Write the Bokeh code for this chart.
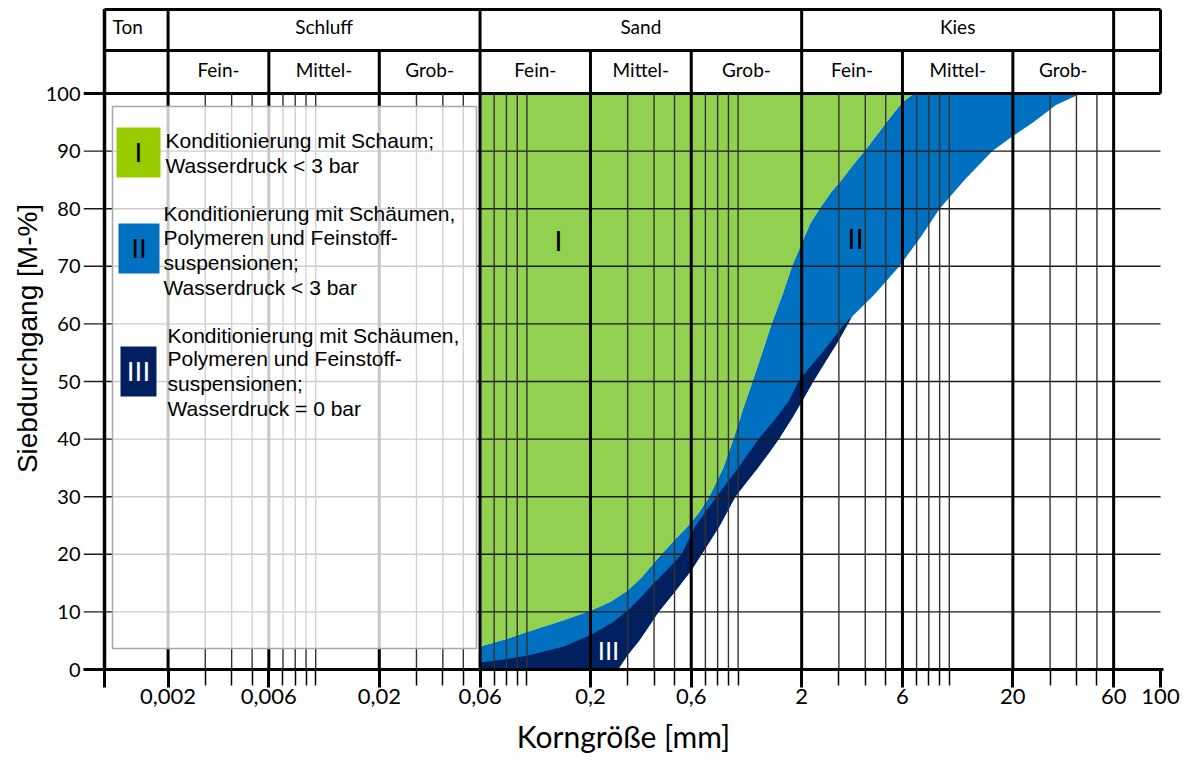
import numpy as np
from bokeh.plotting import figure
from bokeh.models import Range1d, FixedTicker
from bokeh.core.properties import value
from bokeh.embed import file_html
from bokeh.resources import INLINE

# ---------------- data ----------------
x_major_ticks = [0.001, 0.002, 0.006, 0.02, 0.06, 0.2, 0.6, 2, 6, 20, 60, 100]
x_major_labels = ["", "0,002", "0,006", "0,02", "0,06", "0,2", "0,6", "2", "6", "20", "60", "100"]
x_minor_ticks = [0.003, 0.004, 0.005, 0.007, 0.008, 0.009, 0.01,
                 0.03, 0.04, 0.05, 0.07, 0.08, 0.09, 0.1,
                 0.3, 0.4, 0.5, 0.7, 0.8, 0.9, 1,
                 3, 4, 5, 7, 8, 9, 10,
                 30, 40, 50]
y_ticks = [0, 10, 20, 30, 40, 50, 60, 70, 80, 90, 100]

main_classes = ["Ton", "Schluff", "Sand", "Kies", ""]
main_bounds = [0.001, 0.002, 0.06, 2, 60, 100]
sub_classes = ["", "Fein-", "Mittel-", "Grob-", "Fein-", "Mittel-", "Grob-",
               "Fein-", "Mittel-", "Grob-", ""]
sub_bounds = [0.001, 0.002, 0.006, 0.02, 0.06, 0.2, 0.6, 2, 6, 20, 60, 100]

# boundary green (I) / blue (II)
c1_x = [0.06, 0.08, 0.1, 0.15, 0.2, 0.25, 0.3, 0.35, 0.41, 0.5, 0.6, 0.66, 0.73, 0.85,
        0.95, 1.05, 1.17, 1.3, 1.44, 1.62, 1.8, 2.0, 2.2, 2.43, 2.75, 3.09, 3.5, 3.97,
        4.5, 5.04, 5.5, 6.0, 6.8]
c1_y = [4.0, 5.3, 6.5, 8.6, 10.2, 11.8, 13.7, 16.0, 19.0, 22.5, 25.5, 27.5, 30, 35,
        40, 45, 50, 55, 60, 65, 70, 74, 77.5, 80, 82.8, 85, 87.6, 90,
        92.6, 95, 96.8, 98.5, 100]
# upper boundary of band III (navy)
c3_x = [0.06, 0.08, 0.1, 0.15, 0.2, 0.25, 0.3, 0.35, 0.4, 0.47, 0.54, 0.63, 0.79, 1.0,
        1.25, 1.5, 1.73, 1.93, 2.2, 2.5, 2.8, 3.1, 3.45]
c3_y = [1.2, 1.8, 2.4, 4.0, 6.0, 8.0, 10.2, 12.7, 15, 17.6, 20, 25, 30, 35,
        40, 43.5, 46.5, 50, 52.6, 55, 57.3, 59.4, 61.2]
# lower boundary of band III
c4_x = [0.27, 0.3, 0.34, 0.38, 0.42, 0.5, 0.6, 0.7, 0.82, 0.97, 1.1, 1.24, 1.4, 1.56,
        1.8, 2.04, 2.27, 2.6, 2.98, 3.45]
c4_y = [0, 2.5, 5, 7.6, 10, 13.4, 17.2, 21, 25, 30, 32.6, 35, 37.6, 40,
        43.6, 47, 50, 53.5, 57, 61.2]
# lower boundary of band II (above the junction with band III)
c2_x = [3.45, 4.4, 5.8, 7.3, 9.0, 11.8, 16, 20, 25, 32, 42]
c2_y = [61.2, 65, 70, 75, 80, 85, 90, 92.6, 95, 98, 100]

band_labels = ["I", "II", "III"]
band_fill = ["#92D050", "#0070C0", "#002060"]
legend_fill = ["#99CC00", "#0070C0", "#002060"]
legend_label_color = ["black", "black", "white"]
legend_texts = [
    ["Konditionierung mit Schaum;", "Wasserdruck < 3 bar"],
    ["Konditionierung mit Schäumen,", "Polymeren und  Feinstoff-",
     "suspensionen;", "Wasserdruck < 3 bar"],
    ["Konditionierung mit Schäumen,", "Polymeren und  Feinstoff-",
     "suspensionen;", "Wasserdruck = 0 bar"],
]
x_title = "Korngröße [mm]"
y_title = "Siebdurchgang [M-%]"

# ---------------- layout helpers (pixel -> data) ----------------
DEC = 211.2


def xd(px):
    return 10 ** (-3 + (px - 104) / DEC)


def yd(py):
    return (669 - py) / 5.76


p = figure(width=1190, height=762, x_axis_type="log",
           x_range=Range1d(xd(83), xd(1163)), y_range=Range1d(0, yd(7)),
           min_border_left=83, min_border_right=27, min_border_top=7,
           min_border_bottom=93, output_backend="svg", toolbar_location=None)
p.outline_line_color = None
p.grid.visible = False
p.background_fill_color = "white"
p.border_fill_color = "white"

# ---------------- bands ----------------
blue_x = c1_x + [c2_x[-1]] + c2_x[::-1] + c4_x[::-1] + [0.06]
blue_y = c1_y + [100] + c2_y[::-1] + c4_y[::-1] + [0]
p.patch(blue_x, blue_y, fill_color=band_fill[1], line_color=None)
green_x = c1_x + [0.06]
green_y = c1_y + [100]
p.patch(green_x, green_y, fill_color=band_fill[0], line_color=None)
navy_x = c3_x + c4_x[::-1] + [0.06]
navy_y = c3_y + c4_y[::-1] + [0]
p.patch(navy_x, navy_y, fill_color=band_fill[2], line_color=None)

# ---------------- grid ----------------
inner_y = y_ticks[1:-1]
p.segment(x0=[xd(83)] * len(inner_y), y0=inner_y, x1=[100] * len(inner_y), y1=inner_y,
          line_color="#1a1a1a", line_width=1.4)
p.segment(x0=[xd(83)] * 2, y0=[0, 100], x1=[100] * 2, y1=[0, 100],
          line_color="black", line_width=3)
p.segment(x0=x_minor_ticks, y0=[0] * len(x_minor_ticks), x1=x_minor_ticks,
          y1=[100] * len(x_minor_ticks), line_color="#333333", line_width=1.4)
inner_x = x_major_ticks[1:-1]
p.segment(x0=inner_x, y0=[0] * len(inner_x), x1=inner_x, y1=[100] * len(inner_x),
          line_color="black", line_width=3)
p.segment(x0=[0.001], y0=[0], x1=[0.001], y1=[yd(8.5)], line_color="black", line_width=3.5)

# ---------------- header table ----------------
y_top, y_mid = yd(9), yd(50)
p.segment(x0=[0.001, 0.001], y0=[y_top, y_mid], x1=[100, 100], y1=[y_top, y_mid],
          line_color="black", line_width=3)
p.segment(x0=main_bounds[1:], y0=[y_mid] * (len(main_bounds) - 1),
          x1=main_bounds[1:], y1=[y_top] * (len(main_bounds) - 1),
          line_color="black", line_width=3)
p.segment(x0=sub_bounds[1:], y0=[100] * (len(sub_bounds) - 1),
          x1=sub_bounds[1:], y1=[y_mid] * (len(sub_bounds) - 1),
          line_color="black", line_width=3)

hdr_font = value("Lato")
p.text(x=[xd(112)], y=[yd(26)], text=[main_classes[0]], text_font=hdr_font,
       text_font_size="19px", text_align="left", text_baseline="middle", text_color="black")
mc_x = [np.sqrt(main_bounds[i] * main_bounds[i + 1]) for i in range(1, 4)]
p.text(x=mc_x, y=[yd(26)] * 3, text=main_classes[1:4], text_font=hdr_font,
       text_font_size="19px", text_align="center", text_baseline="middle", text_color="black")
sc_x = [np.sqrt(sub_bounds[i] * sub_bounds[i + 1]) for i in range(len(sub_bounds) - 1)]
p.text(x=sc_x, y=[yd(69)] * len(sc_x), text=sub_classes, text_font=hdr_font,
       text_font_size="19px", text_align="center", text_baseline="middle", text_color="black")

# ---------------- legend ----------------
p.quad(left=[xd(112)], right=[xd(476)], top=[yd(106)], bottom=[yd(648)],
       fill_color="white", fill_alpha=0.78, line_color="#a6a6a6", line_width=1.5)
sq_px = [(116, 160, 127, 177), (118, 159, 223, 273), (120, 156, 346, 396)]
p.quad(left=[xd(a) for a, b, c, d in sq_px], right=[xd(b) for a, b, c, d in sq_px],
       top=[yd(c) for a, b, c, d in sq_px], bottom=[yd(d) for a, b, c, d in sq_px],
       fill_color=legend_fill, line_color=None)
lab_font = value("Liberation Sans")
p.text(x=[xd((a + b) / 2) for a, b, c, d in sq_px], y=[yd((c + d) / 2) for a, b, c, d in sq_px],
       text=band_labels, text_color=legend_label_color, text_font=lab_font,
       text_font_size="28px", text_align="center", text_baseline="middle")
text_left = [165, 163, 167]
text_rows = [[140, 165], [213, 237, 262, 287], [335, 358, 383, 408]]
lx, ly, lt = [], [], []
for i, lines in enumerate(legend_texts):
    for j, line in enumerate(lines):
        lx.append(xd(text_left[i]))
        ly.append(yd(text_rows[i][j]))
        lt.append(line)
p.text(x=lx, y=ly, text=lt, text_font=lab_font, text_font_size="21px",
       text_align="left", text_baseline="middle", text_color="black")

# ---------------- band labels in chart ----------------
p.text(x=[xd(558), xd(855), xd(608)], y=[yd(240), yd(238), yd(650)], text=band_labels,
       text_color=["black", "black", "white"], text_font=lab_font,
       text_font_size=["30px", "30px", "26px"], text_align="center", text_baseline="middle")

# ---------------- axes ----------------
xa = p.xaxis[0]
xa.ticker = FixedTicker(ticks=x_major_ticks, minor_ticks=x_minor_ticks)
xa.major_label_overrides = dict(zip(x_major_ticks, x_major_labels))
xa.major_tick_out = 18
xa.major_tick_in = 0
xa.minor_tick_out = 16
xa.minor_tick_in = 0
xa.major_tick_line_width = 3
xa.minor_tick_line_width = 1.5
xa.major_tick_line_color = "black"
xa.minor_tick_line_color = "black"
xa.axis_line_width = 3
xa.axis_line_color = "black"
xa.major_label_standoff = 1
xa.major_label_text_font = "Lato"
xa.major_label_text_font_size = "22px"
xa.major_label_text_color = "black"
xa.axis_label = x_title
xa.axis_label_text_font = "Lato"
xa.axis_label_text_font_size = "30px"
xa.axis_label_text_font_style = "normal"
xa.axis_label_text_color = "black"
xa.axis_label_standoff = 11

ya = p.yaxis[0]
ya.ticker = FixedTicker(ticks=y_ticks)
ya.major_tick_line_color = None
ya.minor_tick_line_color = None
ya.major_tick_out = 0
ya.axis_line_color = None
ya.major_label_standoff = 3
ya.major_label_text_font = "Lato"
ya.major_label_text_font_size = "20px"
ya.major_label_text_color = "black"
ya.axis_label = y_title
ya.axis_label_text_font = "Liberation Sans"
ya.axis_label_text_font_size = "28px"
ya.axis_label_text_font_style = "normal"
ya.axis_label_text_color = "black"
ya.axis_label_standoff = 0

open("out.html", "w").write(file_html(p, INLINE))
